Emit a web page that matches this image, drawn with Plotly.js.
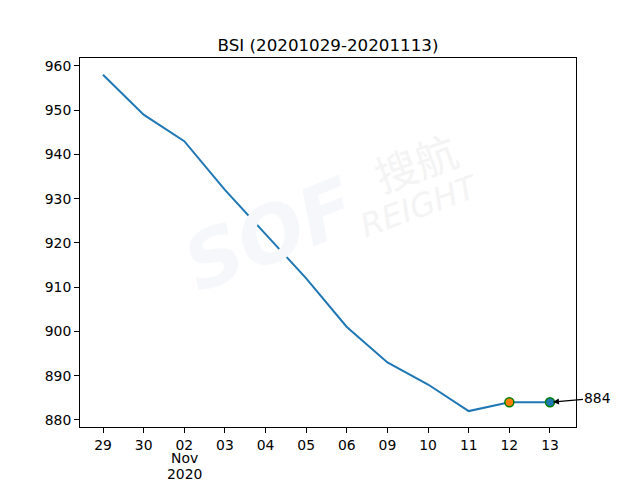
<!DOCTYPE html>
<html>
<head>
<meta charset="utf-8">
<script src="https://cdn.plot.ly/plotly-3.0.1.min.js"></script>
<style>html,body{margin:0;padding:0;background:#fff;}#chart{width:640px;height:480px;}</style>
</head>
<body>
<div id="chart"></div>
<script>
const dates = ["2020-10-29","2020-10-30","2020-11-02","2020-11-03","2020-11-04","2020-11-05","2020-11-06","2020-11-09","2020-11-10","2020-11-11","2020-11-12","2020-11-13"];
const tickLabels = ["29","30","02","03","04","05","06","09","10","11","12","13"];
const monthLabel = "Nov";
const yearLabel = "2020";
const monthTickDate = "2020-11-02";
const bsi = [958, 949, 943, 932, 922, 912, 901, 893, 888, 882, 884, 884];
const prevDate = ["2020-11-12"];
const prevValue = [884];
const lastDate = ["2020-11-13"];
const lastValue = [884];
const titleText = "BSI (20201029-20201113)";
const labelText = "884";

const font = "DejaVu Sans, Liberation Sans, sans-serif";

const traces = [
  {x: dates, y: bsi, type: "scatter", mode: "lines",
   line: {color: "#1f77b4", width: 2}, hoverinfo: "skip"},
  {x: prevDate, y: prevValue, type: "scatter", mode: "markers",
   marker: {color: "#ff7f0e", size: 9, line: {color: "#008000", width: 1.5}}},
  {x: lastDate, y: lastValue, type: "scatter", mode: "markers",
   marker: {color: "#1f77b4", size: 9, line: {color: "#008000", width: 1.5}}}
];

const layout = {
  width: 640, height: 480,
  margin: {l: 80, r: 64, t: 58, b: 53},
  paper_bgcolor: "#fff", plot_bgcolor: "#fff",
  showlegend: false,
  font: {family: font, size: 13.9, color: "#000"},
  title: {text: titleText, font: {family: font, size: 16.7, color: "#000"},
          xref: "paper", x: 0.5, xanchor: "center",
          yref: "paper", y: 1, yanchor: "bottom", pad: {b: 7}},
  xaxis: {type: "category", tickvals: dates, ticktext: tickLabels,
          range: [-0.566, 11.64], showgrid: false, zeroline: false,
          showline: true, mirror: true, linecolor: "#000", linewidth: 1,
          ticks: "outside", ticklen: 5, tickwidth: 1, tickcolor: "#000",
          tickfont: {family: font, size: 13.9, color: "#000"}},
  yaxis: {range: [878.4, 961.8], tickmode: "array",
          tickvals: [880, 890, 900, 910, 920, 930, 940, 950, 960],
          showgrid: false, zeroline: false,
          showline: true, mirror: true, linecolor: "#000", linewidth: 1,
          ticks: "outside", ticklen: 5, tickwidth: 1, tickcolor: "#000",
          tickfont: {family: font, size: 13.9, color: "#000"}},
  annotations: [
    {xref: "paper", yref: "paper", x: 0.383, y: 0.52, xanchor: "center", yanchor: "middle",
     text: "<b><i>SOF</i></b>", showarrow: false, textangle: -22,
     font: {family: font, size: 78, color: "rgb(245,247,250)"}},
    {xref: "paper", yref: "paper", x: 0.675, y: 0.72, xanchor: "center", yanchor: "middle",
     text: "搜航", showarrow: false, textangle: -20,
     font: {family: "Noto Sans CJK SC", size: 42, color: "rgb(244,244,244)"}},
    {xref: "paper", yref: "paper", x: 0.685, y: 0.60, xanchor: "center", yanchor: "middle",
     text: "<i>REIGHT</i>", showarrow: false, textangle: -20,
     font: {family: font, size: 32, color: "rgb(244,244,244)"}},
    {x: monthTickDate, xref: "x", yref: "paper", y: -0.085, yanchor: "middle",
     text: monthLabel, showarrow: false,
     font: {family: font, size: 13.9, color: "#000"}},
    {x: monthTickDate, xref: "x", yref: "paper", y: -0.127, yanchor: "middle",
     text: yearLabel, showarrow: false,
     font: {family: font, size: 13.9, color: "#000"}},
    {x: lastDate[0], y: lastValue[0], xref: "x", yref: "y",
     text: labelText, showarrow: true, ax: 48, ay: -4,
     arrowhead: 2, arrowsize: 1, arrowwidth: 1.2, arrowcolor: "#000",
     standoff: 3, font: {family: font, size: 13.9, color: "#000"}}
  ]
};

Plotly.newPlot("chart", traces, layout, {staticPlot: true, displayModeBar: false});
</script>
</body>
</html>
